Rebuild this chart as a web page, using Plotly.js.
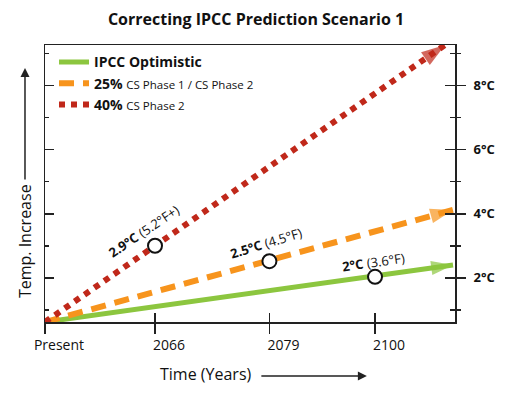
<!DOCTYPE html>
<html>
<head>
<meta charset="utf-8">
<script src="https://cdn.plot.ly/plotly-3.0.1.min.js"></script>
<style>html,body{margin:0;padding:0;background:#fff;}#chart{width:512px;height:396px;}</style>
</head>
<body>
<div id="chart"></div>
<script>
// ---- data ----
var xTickVals = [0, 1, 2.04, 3];
var xTickText = ['Present', '2066', '2079', '2100'];
var yMajorVals = [2, 4, 6, 8];
var yMajorText = ['2°C', '4°C', '6°C', '8°C'];
var yMinorVals = [1, 3, 5, 7, 9];

var seriesNames = [
  '<b>IPCC Optimistic</b>',
  '<b>25%</b> <span style="font-size:11.5px;font-weight:normal">CS Phase 1 / CS Phase 2</span>',
  '<b>40%</b> <span style="font-size:11.5px;font-weight:normal">CS Phase 2</span>'
];
var greenX = [0, 3.709];
var greenY = [0.62, 2.40];
var orangeX = [0, 3.709];
var orangeY = [0.62, 4.12];
var redX = [0, 3.636];
var redY = [0.62, 9.27];

var milestoneX = [1, 2.04, 3];
var milestoneY = [3.0, 2.52, 2.03];
var milestoneLabels = ['<b>2.9°C</b> (5.2°F+)', '<b>2.5°C</b> (4.5°F)', '<b>2°C</b> (3.6°F)'];
var labelX = [0.90, 2.01, 2.99];
var labelY = [3.46, 3.08, 2.49];
var labelAngle = [-34, -17, -8];

var colors = {green: '#8cc63f', orange: '#f7941d', red: '#c0281a'};
var yRange = [0.62, 9.27];
var xRange = [0, 3.727];

function arrowTrace(xs, ys, color, sz) {
  return {x: xs, y: ys, mode: 'markers', type: 'scatter', showlegend: false, hoverinfo: 'skip',
    cliponaxis: false,
    marker: {symbol: 'arrow', angleref: 'previous', size: [0, sz], color: color, line: {width: 0}}};
}

var traces = [
  {x: greenX, y: greenY, name: seriesNames[0], mode: 'lines', type: 'scatter',
   line: {color: colors.green, width: 5, backoff: 15}},
  {x: orangeX, y: orangeY, name: seriesNames[1], mode: 'lines', type: 'scatter',
   line: {color: colors.orange, width: 6, dash: '15px,9px', backoff: 15}},
  {x: redX, y: redY, name: seriesNames[2], mode: 'lines', type: 'scatter',
   line: {color: colors.red, width: 6, dash: '6px,6px', backoff: 15}},
  arrowTrace(greenX, greenY, colors.green, 23),
  arrowTrace(orangeX, orangeY, colors.orange, 24),
  arrowTrace(redX, redY, colors.red, 25),
  {x: milestoneX, y: milestoneY, mode: 'markers', type: 'scatter', showlegend: false, cliponaxis: false,
   marker: {symbol: 'circle', size: 14, color: '#ffffff', line: {color: '#111', width: 2}}},
  {x: [], y: [], xaxis: 'x2', yaxis: 'y', showlegend: false},
  {x: [], y: [], xaxis: 'x', yaxis: 'y2', showlegend: false},
  {x: [], y: [], xaxis: 'x', yaxis: 'y3', showlegend: false}
];

var annotations = [];
for (var i = 0; i < milestoneLabels.length; i++) {
  annotations.push({x: labelX[i], y: labelY[i], xref: 'x', yref: 'y', text: milestoneLabels[i],
    xanchor: 'center', yanchor: 'middle',
    showarrow: false, textangle: labelAngle[i], font: {size: 13, color: '#111'}});
}
annotations.push({x: -0.0488, y: 0.292, xref: 'paper', yref: 'paper', text: 'Temp. Increase',
  xanchor: 'center', yanchor: 'middle',
  showarrow: false, textangle: -90, font: {size: 16, color: '#111'}});
annotations.push({x: -0.0488, y: 0.917, xref: 'paper', yref: 'paper', text: '', showarrow: true,
  ax: 0, ay: 113, arrowhead: 2, arrowsize: 1.2, arrowwidth: 1.5, arrowcolor: '#222', standoff: 0});
annotations.push({x: 0.393, y: -0.188, xref: 'paper', yref: 'paper', text: 'Time (Years)',
  xanchor: 'center', yanchor: 'middle',
  showarrow: false, font: {size: 16, color: '#111'}});
annotations.push({x: 0.785, y: -0.195, xref: 'paper', yref: 'paper', text: '', showarrow: true,
  ax: -107, ay: 0, arrowhead: 2, arrowsize: 1.2, arrowwidth: 1.5, arrowcolor: '#222', standoff: 0});

var layout = {
  width: 512, height: 396,
  margin: {l: 45, r: 57, t: 45, b: 74},
  paper_bgcolor: '#fff', plot_bgcolor: '#fff',
  font: {family: 'Open Sans, sans-serif', color: '#111'},
  title: {text: '<b>Correcting IPCC Prediction Scenario 1</b>', x: 0.5, xanchor: 'center',
    y: 0.95, yanchor: 'middle', font: {size: 16, color: '#111'}},
  showlegend: true,
  legend: {x: 0.022, y: 0.995, xanchor: 'left', yanchor: 'top', bgcolor: 'rgba(0,0,0,0)',
    font: {size: 14, color: '#111'}, tracegroupgap: 0, itemwidth: 30},
  xaxis: {range: xRange, tickvals: xTickVals, ticktext: xTickText, ticks: 'outside', ticklen: 10,
    tickwidth: 1.5, tickcolor: '#222', showline: true, linecolor: '#222', linewidth: 1.5, mirror: true,
    ticklabelshift: 14,
    showgrid: false, zeroline: false, tickfont: {size: 14, color: '#111'}, fixedrange: true},
  xaxis2: {range: xRange, tickvals: xTickVals, overlaying: 'x', anchor: 'y', ticks: 'inside', ticklen: 9,
    tickwidth: 1.5, tickcolor: '#222', showticklabels: false, showgrid: false, zeroline: false, showline: false},
  yaxis: {range: yRange, side: 'left', tickvals: yMajorVals, ticks: 'inside', ticklen: 9, tickwidth: 1.5,
    tickcolor: '#222', showticklabels: false, showline: true, linecolor: '#222', linewidth: 1.5, mirror: true,
    showgrid: false, zeroline: false,
    minor: {tickvals: yMinorVals, ticks: 'inside', ticklen: 4, tickwidth: 1.5, tickcolor: '#222', showgrid: false}},
  yaxis2: {range: yRange, overlaying: 'y', side: 'right', anchor: 'x', tickvals: yMajorVals, ticktext: yMajorText,
    ticks: 'outside', ticklen: 10, tickwidth: 1.5, tickcolor: '#222', ticklabelstandoff: 5,
    tickfont: {size: 13, color: '#111', weight: 'bold'}, showgrid: false, zeroline: false, showline: false,
    minor: {tickvals: yMinorVals, ticks: 'outside', ticklen: 5, tickwidth: 1.5, tickcolor: '#222', showgrid: false}},
  yaxis3: {range: yRange, overlaying: 'y', side: 'right', anchor: 'x', tickvals: yMajorVals,
    ticks: 'inside', ticklen: 10, tickwidth: 1.5, tickcolor: '#222', showticklabels: false,
    showgrid: false, zeroline: false, showline: false,
    minor: {tickvals: yMinorVals, ticks: 'inside', ticklen: 5, tickwidth: 1.5, tickcolor: '#222', showgrid: false}},
  annotations: annotations
};

Plotly.newPlot('chart', traces, layout, {displayModeBar: false, staticPlot: true});
</script>
</body>
</html>
